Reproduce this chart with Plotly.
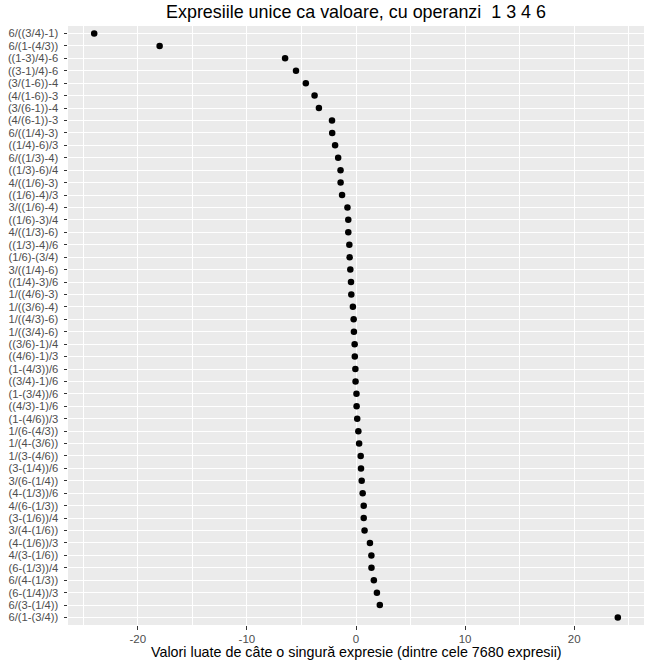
import plotly.graph_objects as go

expressions = [
    "6/((3/4)-1)", "6/(1-(4/3))", "((1-3)/4)-6", "((3-1)/4)-6", "(3/(1-6))-4",
    "(4/(1-6))-3", "(3/(6-1))-4", "(4/(6-1))-3", "6/((1/4)-3)", "((1/4)-6)/3",
    "6/((1/3)-4)", "((1/3)-6)/4", "4/((1/6)-3)", "((1/6)-4)/3", "3/((1/6)-4)",
    "((1/6)-3)/4", "4/((1/3)-6)", "((1/3)-4)/6", "(1/6)-(3/4)", "3/((1/4)-6)",
    "((1/4)-3)/6", "1/((4/6)-3)", "1/((3/6)-4)", "1/((4/3)-6)", "1/((3/4)-6)",
    "((3/6)-1)/4", "((4/6)-1)/3", "(1-(4/3))/6", "((3/4)-1)/6", "(1-(3/4))/6",
    "((4/3)-1)/6", "(1-(4/6))/3", "1/(6-(4/3))", "1/(4-(3/6))", "1/(3-(4/6))",
    "(3-(1/4))/6", "3/(6-(1/4))", "(4-(1/3))/6", "4/(6-(1/3))", "(3-(1/6))/4",
    "3/(4-(1/6))", "(4-(1/6))/3", "4/(3-(1/6))", "(6-(1/3))/4", "6/(4-(1/3))",
    "(6-(1/4))/3", "6/(3-(1/4))", "6/(1-(3/4))",
]

values = [
    -24.0, -18.0, -6.5, -5.5, -4.6,
    -3.8, -3.4, -2.2, -2.182, -1.917,
    -1.636, -1.417, -1.412, -1.278, -0.783,
    -0.708, -0.706, -0.611, -0.583, -0.522,
    -0.458, -0.429, -0.286, -0.214, -0.190,
    -0.125, -0.111, -0.056, -0.042, 0.042,
    0.056, 0.111, 0.214, 0.286, 0.429,
    0.458, 0.522, 0.611, 0.706, 0.708,
    0.783, 1.278, 1.412, 1.417, 1.636,
    1.917, 2.182, 24.0,
]

title_text = "Expresiile unice ca valoare, cu operanzi  1 3 4 6"
x_title = "Valori luate de câte o singură expresie (dintre cele 7680 expresii)"
x_ticks = [-20, -10, 0, 10, 20]
x_minor = [-25, -15, -5, 5, 15, 25]

FONT = "Liberation Sans, Arial, sans-serif"
W, H = 652, 663
L, R, T, B = 68, 8, 26, 38

fig = go.Figure(
    go.Scatter(
        x=values,
        y=expressions,
        mode="markers",
        marker=dict(color="black", size=6.5),
        hoverinfo="x+y",
    )
)

n = len(expressions)
plot_h = H - T - B
fig.update_layout(
    width=W,
    height=H,
    margin=dict(l=L, r=R, t=T, b=B),
    paper_bgcolor="white",
    plot_bgcolor="#EBEBEB",
    showlegend=False,
    font=dict(family=FONT, color="#4D4D4D"),
    title=dict(
        text=title_text,
        font=dict(family=FONT, size=17.9, color="black"),
        x=0.5,
        xref="paper",
        xanchor="center",
        y=1 - 12 / H,
        yref="container",
        yanchor="middle",
    ),
    xaxis=dict(
        range=[-26.4, 26.4],
        tickmode="array",
        tickvals=x_ticks,
        ticktext=[str(v) for v in x_ticks],
        showgrid=True,
        gridcolor="white",
        gridwidth=1.3,
        zeroline=False,
        showline=False,
        ticks="outside",
        ticklen=3.5,
        tickwidth=1,
        tickcolor="#333333",
        tickfont=dict(family=FONT, size=11.5, color="#4D4D4D"),
        minor=dict(
            tickmode="array",
            tickvals=x_minor,
            showgrid=True,
            gridcolor="white",
            gridwidth=0.6,
            ticks="",
        ),
        automargin=False,
        fixedrange=True,
    ),
    yaxis=dict(
        type="category",
        categoryorder="array",
        categoryarray=expressions,
        tickmode="array",
        tickvals=expressions,
        ticktext=expressions,
        range=[n - 1 + 0.6, -0.6],
        showgrid=True,
        gridcolor="white",
        gridwidth=1.3,
        zeroline=False,
        showline=False,
        ticks="outside",
        ticklen=3.5,
        tickwidth=1,
        tickcolor="#333333",
        ticklabelstandoff=3,
        tickfont=dict(family=FONT, size=11.2, color="#4D4D4D"),
        automargin=False,
        fixedrange=True,
    ),
    annotations=[
        dict(
            text=x_title,
            xref="paper",
            yref="paper",
            x=0.5,
            y=-(652 - (H - B)) / plot_h,
            xanchor="center",
            yanchor="middle",
            showarrow=False,
            font=dict(family=FONT, size=14.3, color="black"),
        )
    ],
)

fig.write_html(
    "out.html",
    config={"displayModeBar": False},
    post_script="document.body.style.margin='0';document.body.style.overflow='hidden';",
)
